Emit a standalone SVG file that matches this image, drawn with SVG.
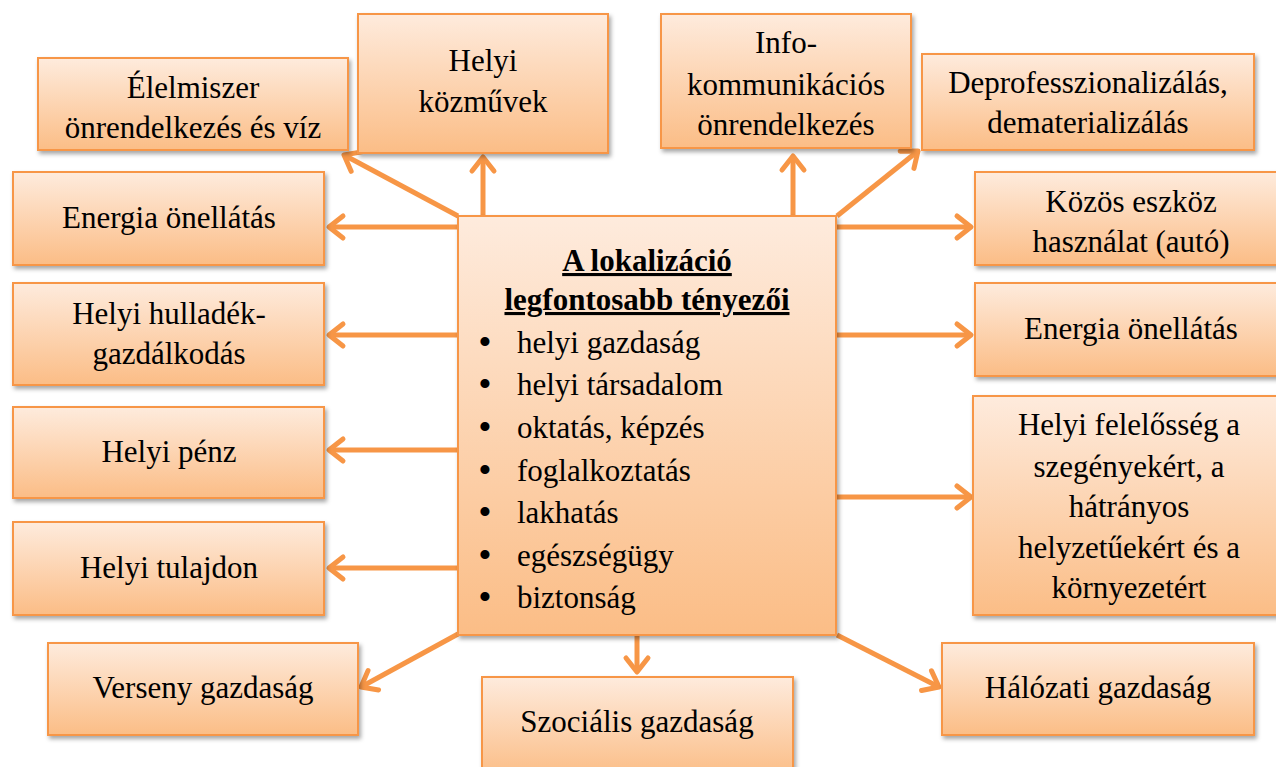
<svg xmlns="http://www.w3.org/2000/svg" width="1276" height="767" viewBox="0 0 1276 767">
<style>
.box{fill:url(#g);stroke:#F79646;stroke-width:2;filter:url(#sh)}
.t{font-family:"Liberation Serif","Times New Roman",serif;font-size:31px;fill:#000;text-anchor:middle}
.l{font-family:"Liberation Serif","Times New Roman",serif;font-size:31px;fill:#000}
.bs{font-size:38px;text-anchor:middle}
.h{font-family:"Liberation Serif","Times New Roman",serif;font-size:31px;font-weight:bold;fill:#000;text-anchor:middle;text-decoration:underline}
.a{stroke:#F79646;stroke-width:5;fill:none;marker-end:url(#ah)}
</style>
<defs>
<linearGradient id="g" x1="0" y1="0" x2="0" y2="1">
<stop offset="0" stop-color="#FEEBDD"/>
<stop offset="1" stop-color="#FBBD86"/>
</linearGradient>
<filter id="sh" x="-10%" y="-10%" width="125%" height="130%">
<feDropShadow dx="2" dy="3" stdDeviation="2" flood-color="#000" flood-opacity="0.35"/>
</filter>
<marker id="ah" markerUnits="userSpaceOnUse" viewBox="-20 -15 25 30" refX="0" refY="0" markerWidth="25" markerHeight="30" orient="auto" overflow="visible">
<path d="M-14,-11 L0,0 L-14,11" fill="none" stroke="#F79646" stroke-width="5" stroke-linecap="round" stroke-linejoin="round"/>
</marker>
</defs>
<rect width="1276" height="767" fill="#fff"/>
<g id="connectors">
<line class="a" x1="458" y1="216" x2="344" y2="155"/>
<line class="a" x1="483" y1="216" x2="483" y2="157"/>
<line class="a" x1="793" y1="216" x2="793" y2="156"/>
<line class="a" x1="837" y1="216" x2="918" y2="151"/>
<line class="a" x1="458" y1="227" x2="329" y2="227"/>
<line class="a" x1="837" y1="227" x2="971" y2="227"/>
<line class="a" x1="458" y1="335" x2="329" y2="335"/>
<line class="a" x1="837" y1="335" x2="971" y2="335"/>
<line class="a" x1="458" y1="450" x2="329" y2="450"/>
<line class="a" x1="837" y1="497" x2="971" y2="497"/>
<line class="a" x1="458" y1="568" x2="329" y2="568"/>
<line class="a" x1="458" y1="634" x2="361" y2="687"/>
<line class="a" x1="637" y1="635" x2="637" y2="672"/>
<line class="a" x1="837" y1="635" x2="939" y2="687"/>
</g>
<g id="elelmiszer"><rect class="box" x="38" y="58" width="310" height="92"/>
<text class="t" x="193" y="98">Élelmiszer</text><text class="t" x="193" y="138">önrendelkezés és víz</text></g>
<g id="kozmuvek"><rect class="box" x="358" y="14" width="250" height="139"/>
<text class="t" x="483" y="71">Helyi</text><text class="t" x="483" y="112">közművek</text></g>
<g id="info"><rect class="box" x="661" y="14" width="250" height="134"/>
<text class="t" x="786" y="53">Info-</text><text class="t" x="786" y="95">kommunikációs</text><text class="t" x="786" y="135">önrendelkezés</text></g>
<g id="deprof"><rect class="box" x="922" y="54" width="332" height="96"/>
<text class="t" x="1088" y="93">Deprofesszionalizálás,</text><text class="t" x="1088" y="133">dematerializálás</text></g>
<g id="energia-bal"><rect class="box" x="13" y="172" width="311" height="93"/>
<text class="t" x="169" y="228">Energia önellátás</text></g>
<g id="kozos"><rect class="box" x="975" y="172" width="312" height="93"/>
<text class="t" x="1131" y="212">Közös eszköz</text><text class="t" x="1131" y="252">használat (autó)</text></g>
<g id="hulladek"><rect class="box" x="13" y="283" width="311" height="102"/>
<text class="t" x="169" y="324">Helyi hulladék-</text><text class="t" x="169" y="364">gazdálkodás</text></g>
<g id="energia-jobb"><rect class="box" x="975" y="283" width="312" height="93"/>
<text class="t" x="1131" y="339">Energia önellátás</text></g>
<g id="penz"><rect class="box" x="13" y="407" width="311" height="91"/>
<text class="t" x="169" y="462">Helyi pénz</text></g>
<g id="felelosseg"><rect class="box" x="973" y="396" width="314" height="219"/>
<text class="t" x="1129" y="435">Helyi felelősség a</text><text class="t" x="1129" y="477">szegényekért, a</text><text class="t" x="1129" y="517">hátrányos</text><text class="t" x="1129" y="558">helyzetűekért és a</text><text class="t" x="1129" y="598">környezetért</text></g>
<g id="tulajdon"><rect class="box" x="13" y="522" width="311" height="93"/>
<text class="t" x="169" y="578">Helyi tulajdon</text></g>
<g id="verseny"><rect class="box" x="48" y="643" width="310" height="92"/>
<text class="t" x="203" y="698">Verseny gazdaság</text></g>
<g id="szocialis"><rect class="box" x="482" y="677" width="311" height="100"/>
<text class="t" x="637" y="732">Szociális gazdaság</text></g>
<g id="halozati"><rect class="box" x="942" y="643" width="312" height="92"/>
<text class="t" x="1098" y="698">Hálózati gazdaság</text></g>
<g id="kozpont"><rect class="box" x="458" y="216" width="378" height="419"/>
<text class="h" x="647" y="271">A lokalizáció</text>
<text class="h" x="647" y="310">legfontosabb tényezői</text>
<text class="l"><tspan class="bs" x="485" y="355">•</tspan><tspan x="517" y="353">helyi gazdaság</tspan></text>
<text class="l"><tspan class="bs" x="485" y="397">•</tspan><tspan x="517" y="395">helyi társadalom</tspan></text>
<text class="l"><tspan class="bs" x="485" y="440">•</tspan><tspan x="517" y="438">oktatás, képzés</tspan></text>
<text class="l"><tspan class="bs" x="485" y="483">•</tspan><tspan x="517" y="481">foglalkoztatás</tspan></text>
<text class="l"><tspan class="bs" x="485" y="525">•</tspan><tspan x="517" y="523">lakhatás</tspan></text>
<text class="l"><tspan class="bs" x="485" y="568">•</tspan><tspan x="517" y="566">egészségügy</tspan></text>
<text class="l"><tspan class="bs" x="485" y="610">•</tspan><tspan x="517" y="608">biztonság</tspan></text>
</g>
</svg>
